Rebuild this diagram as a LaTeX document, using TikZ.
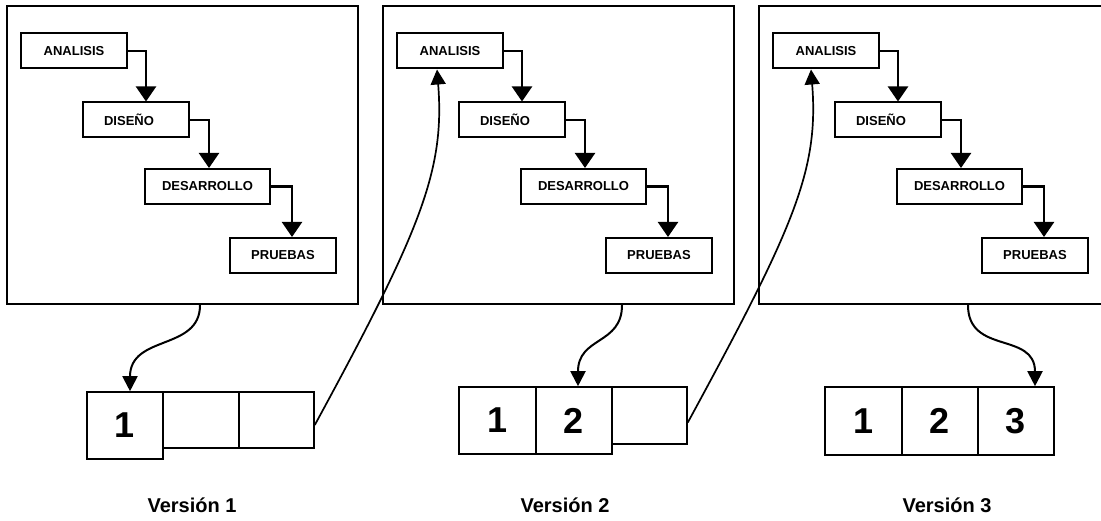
\documentclass[tikz,border=0pt]{standalone}
\usepackage{fontspec}
\setmainfont{Liberation Sans}
\usetikzlibrary{arrows.meta}
\begin{document}
\begin{tikzpicture}[x=1pt,y=-1pt,
  panel/.style={draw,line width=2.2pt,minimum width=351pt,minimum height=298pt,inner sep=0pt},
  stage/.style={draw,line width=2pt,minimum height=35pt,inner sep=0pt,font=\fontsize{13}{15}\selectfont\bfseries},
  cell/.style={draw,line width=1.6pt,inner sep=0pt,font=\fontsize{36}{40}\selectfont\bfseries},
  flow/.style={line width=2.2pt,-{Triangle[width=20pt,length=15pt]}},
  drop/.style={line width=2pt,-{Triangle[width=15pt,length=15pt]}},
  back/.style={line width=1.7pt,-{Triangle[width=15pt,length=15pt]}},
  ver/.style={font=\fontsize{20}{24}\selectfont\bfseries,anchor=base}
]
\useasboundingbox (0,0) rectangle (1101,521);
\clip (0,0) rectangle (1101,521);

\foreach \i/\ox in {1/7,2/383,3/759}{
  \node[panel] (p\i) at (\ox+175.5,155) {};
  \node[stage,minimum width=106pt] (a\i) at (\ox+67,51) {ANALISIS};
  \node[stage,minimum width=106pt] (d\i) at (\ox+129,120) {DISEÑO\hspace*{14pt}};
  \node[stage,minimum width=125pt] (e\i) at (\ox+200.5,186.5) {DESARROLLO};
  \node[stage,minimum width=106pt] (r\i) at (\ox+276,255.5) {PRUEBAS};
  \draw[flow] (a\i.east) -| ([xshift=10pt]d\i.north);
  \draw[flow] (d\i.east) -| ([xshift=1.5pt]e\i.north);
  \draw[flow] (e\i.east) -| ([xshift=9pt]r\i.north);
}

% Version 1 cells
\node[cell,minimum width=76pt,minimum height=67pt] (c11) at (125,425.5) {1};
\node[cell,minimum width=76pt,minimum height=56pt] (c12) at (201,420) {};
\node[cell,minimum width=75pt,minimum height=56pt] (c13) at (276.5,420) {};
% Version 2 cells
\node[cell,minimum width=77pt,minimum height=67pt] (c21) at (497.5,420.5) {1};
\node[cell,minimum width=76pt,minimum height=67pt] (c22) at (574,420.5) {2};
\node[cell,minimum width=75pt,minimum height=57pt] (c23) at (649.5,415.5) {};
% Version 3 cells
\node[cell,minimum width=77pt,minimum height=68pt] (c31) at (863.5,421) {1};
\node[cell,minimum width=76pt,minimum height=68pt] (c32) at (940,421) {2};
\node[cell,minimum width=76pt,minimum height=68pt] (c33) at (1016,421) {3};

% drops from panels to cells
\draw[drop] ([xshift=17.5pt]p1.south) .. controls +(0,46) and +(0,-57) .. ([xshift=5pt]c11.north);
\draw[drop] ([xshift=63.5pt]p2.south) .. controls +(0,40) and +(0,-50) .. ([xshift=4pt]c22.north);
\draw[drop] ([xshift=33.5pt]p3.south) .. controls +(0,50) and +(0,-55) .. ([xshift=19pt]c33.north);

% feedback curves to next analysis
\draw[back] ([yshift=-5pt]c13.east) .. controls +(106,-195) and +(8,101) .. ([xshift=-13pt]a2.south);
\draw[back] ([yshift=-7pt]c23.east) .. controls +(106,-195) and +(8,101) .. ([xshift=-15pt]a3.south);

% labels
\node[ver] (v1) at (192,512) {Versión 1};
\node[ver] (v2) at (565,512) {Versión 2};
\node[ver] (v3) at (947,512) {Versión 3};
\end{tikzpicture}
\end{document}
